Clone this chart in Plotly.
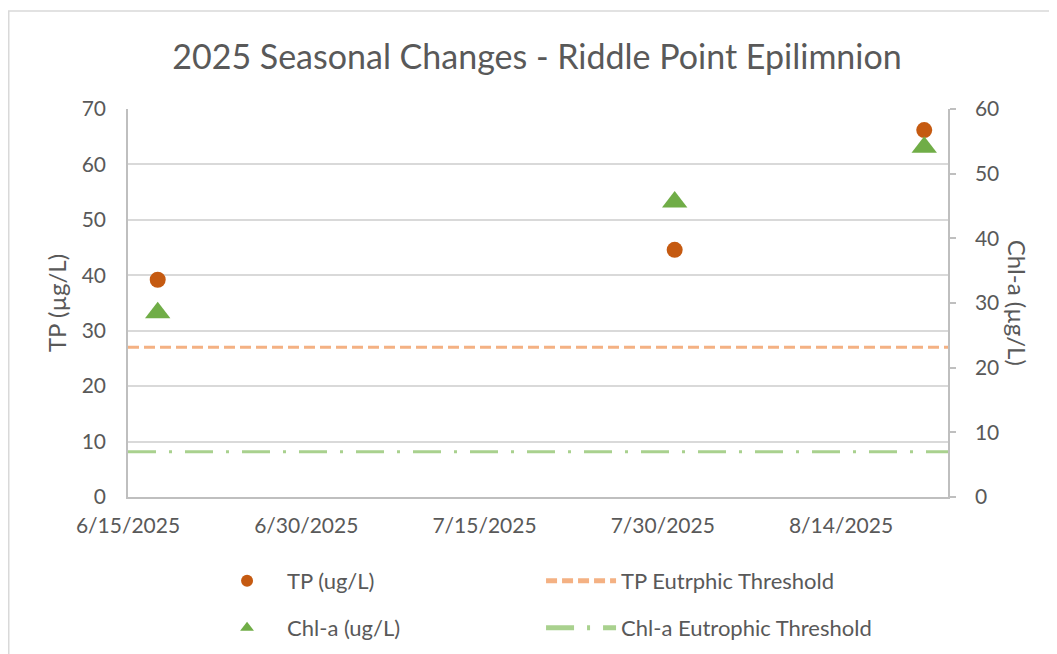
import plotly.graph_objects as go

# ---- data ----
sample_dates = ["2025-06-17 12:00", "2025-07-31", "2025-08-21"]
tp_values = [39.2, 44.6, 66.2]          # TP (ug/L), left axis
chla_values = [28.5, 45.6, 54.1]        # Chl-a (ug/L), right axis
threshold_dates = ["2025-06-15", "2025-08-23"]
tp_threshold = [27, 27]
chla_threshold = [7, 7]
x_tick_values = ["2025-06-15", "2025-06-30", "2025-07-15", "2025-07-30", "2025-08-14"]
x_tick_labels = ["6/15/2025", "6/30/2025", "7/15/2025", "7/30/2025", "8/14/2025"]

TEXT = "#595959"
GRID = "#D9D9D9"
AXIS = "#BFBFBF"
FONT = "Lato"

# the page body has an 8px default margin, so the figure is 8px smaller
W, H = 1049, 646
L, T, PW, PH = 120, 101, 819.7, 388

fig = go.Figure()

fig.add_trace(go.Scatter(
    x=sample_dates, y=tp_values, mode="markers", name="TP (ug/L)",
    marker=dict(symbol="circle", size=16, color="#C55A11"),
    yaxis="y", legend="legend"))
fig.add_trace(go.Scatter(
    x=threshold_dates, y=tp_threshold, mode="lines", name="TP Eutrphic Threshold",
    line=dict(color="#F4B183", width=3, dash="11px,5px"),
    yaxis="y", legend="legend"))
fig.add_trace(go.Scatter(
    x=sample_dates, y=chla_values, mode="markers", name="Chl-a (ug/L)",
    marker=dict(symbol="triangle-up", size=22, color="#70AD47"),
    yaxis="y2", legend="legend2"))
fig.add_trace(go.Scatter(
    x=threshold_dates, y=chla_threshold, mode="lines", name="Chl-a Eutrophic Threshold",
    line=dict(color="#A9D18E", width=3, dash="28px,13px,3px,13px"),
    yaxis="y2", legend="legend2"))

legend_common = dict(
    orientation="h", xref="paper", x=0.0964, xanchor="left", yanchor="middle",
    font=dict(family=FONT, size=22, color=TEXT), itemwidth=70,
    entrywidth=249, itemsizing="constant", bgcolor="rgba(0,0,0,0)",
)

fig.update_layout(
    width=W, height=H,
    margin=dict(l=L, r=W - L - PW, t=T, b=H - T - PH, autoexpand=False),
    paper_bgcolor="white", plot_bgcolor="white",
    font=dict(family=FONT, color=TEXT, size=21),
    title=dict(text="2025 Seasonal Changes - Riddle Point Epilimnion",
               font=dict(family=FONT, size=34, color=TEXT),
               x=529 / W, xanchor="center", y=1 - 49 / H, yanchor="middle"),
    showlegend=True,
    legend=dict(y=-0.2165, **legend_common),
    legend2=dict(y=-0.3376, **legend_common),
    xaxis=dict(
        type="date", range=["2025-06-15", "2025-08-23"],
        tickmode="array", tickvals=x_tick_values, ticktext=x_tick_labels,
        showgrid=False, showline=True, linecolor=AXIS, linewidth=1.5,
        ticks="", ticklabelstandoff=9,
        tickfont=dict(family=FONT, size=21, color=TEXT), zeroline=False),
    yaxis=dict(
        range=[0, 70], dtick=10, tick0=0,
        showgrid=True, gridcolor=GRID, gridwidth=1.5,
        showline=True, linecolor=AXIS, linewidth=1.5, ticks="", zeroline=False,
        ticklabelstandoff=16,
        tickfont=dict(family=FONT, size=21, color=TEXT),
        title=dict(text="TP (µg/L)", font=dict(family=FONT, size=24, color=TEXT), standoff=8)),
    yaxis2=dict(
        range=[0, 60], dtick=10, tick0=0, overlaying="y", side="right",
        showgrid=False, showline=True, linecolor=AXIS, linewidth=1.5,
        ticks="outside", ticklen=6, tickcolor=AXIS, tickwidth=1.5, zeroline=False,
        ticklabelstandoff=15,
        tickfont=dict(family=FONT, size=21, color=TEXT)),
    annotations=[dict(
        text="Chl-a (µg/L)", xref="paper", yref="paper",
        x=(1018 - 128) / PW, y=0.5, xanchor="center", yanchor="middle",
        textangle=90, showarrow=False,
        font=dict(family=FONT, size=24, color=TEXT))],
    shapes=[dict(
        type="rect", xref="paper", yref="paper",
        x0=(0.8 - L) / PW, x1=1.4, y0=-0.7, y1=(T + PH - 3) / PH,
        line=dict(color=GRID, width=1.5), fillcolor="rgba(0,0,0,0)", layer="below")],
)

fig.write_html("out.html")
